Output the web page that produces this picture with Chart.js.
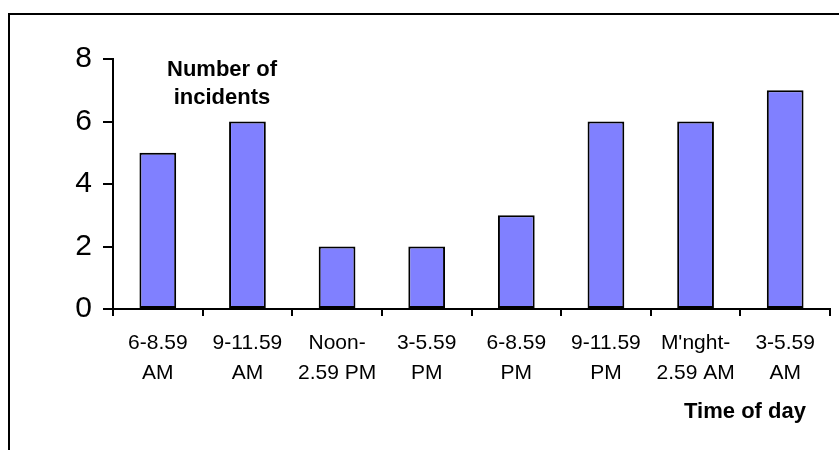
<!DOCTYPE html>
<html>
<head>
<meta charset="utf-8">
<script src="https://cdn.jsdelivr.net/npm/chart.js@4"></script>
<style>
  html, body { margin: 0; padding: 0; background: #fff; }
  #wrap { position: relative; width: 839px; height: 450px; }
  canvas { display: block; }
</style>
</head>
<body>
<div id="wrap"><canvas id="c" width="839" height="450"></canvas></div>
<script>
const categories = [
  ["6-8.59", "AM"],
  ["9-11.59", "AM"],
  ["Noon-", "2.59 PM"],
  ["3-5.59", "PM"],
  ["6-8.59", "PM"],
  ["9-11.59", "PM"],
  ["M'nght-", "2.59 AM"],
  ["3-5.59", "AM"]
];
const incidents = [5, 6, 2, 2, 3, 6, 6, 7];
const yTicks = [0, 2, 4, 6, 8];
const yTitle = ["Number of", "incidents"];
const xTitle = "Time of day";

const FONT = "'Liberation Sans', Arial, sans-serif";

const decor = {
  id: 'decor',
  beforeDraw(chart) {
    const ctx = chart.ctx;
    ctx.save();
    ctx.fillStyle = '#000';
    // outer frame (top and left edges)
    ctx.fillRect(8, 13, 839, 2);
    ctx.fillRect(8, 13, 2, 450);
    ctx.restore();
  },
  afterDraw(chart) {
    const ctx = chart.ctx;
    const a = chart.chartArea;
    ctx.save();
    ctx.fillStyle = '#000';
    ctx.font = "bold 22px " + FONT;
    ctx.textAlign = 'center';
    ctx.textBaseline = 'middle';
    ctx.fillText(yTitle[0], a.left + 109, a.top + 11);
    ctx.fillText(yTitle[1], a.left + 109, a.top + 39);
    ctx.fillText(xTitle, a.right - 85, a.bottom + 103);
    ctx.restore();
  }
};

new Chart(document.getElementById('c'), {
  type: 'bar',
  data: {
    labels: categories,
    datasets: [{
      data: incidents,
      backgroundColor: '#8080FF',
      borderColor: '#000000',
      borderWidth: 2,
      borderSkipped: false,
      categoryPercentage: 1.0,
      barPercentage: 0.41
    }]
  },
  options: {
    responsive: false,
    animation: false,
    devicePixelRatio: 1,
    layout: { padding: { left: 0, right: 9, top: 59, bottom: 0 } },
    plugins: { legend: { display: false }, tooltip: { enabled: false }, title: { display: false } },
    scales: {
      x: {
        offset: true,
        grid: { display: true, drawOnChartArea: false, drawTicks: true, tickLength: 7, color: '#000', lineWidth: 2, offset: true },
        border: { display: true, color: '#000', width: 2 },
        ticks: {
          color: '#000',
          font: { family: FONT, size: 21, lineHeight: '30px' },
          padding: 12,
          maxRotation: 0,
          autoSkip: false
        },
        afterFit(scale) { scale.height = 141; }
      },
      y: {
        min: 0,
        max: 8,
        afterBuildTicks(scale) { scale.ticks = yTicks.map(v => ({ value: v })); },
        grid: { display: true, drawOnChartArea: false, drawTicks: true, tickLength: 10, color: '#000', lineWidth: 2 },
        border: { display: true, color: '#000', width: 2 },
        ticks: {
          color: '#000',
          font: { family: FONT, size: 30 },
          padding: 11
        },
        afterFit(scale) { scale.width = 113; }
      }
    }
  },
  plugins: [decor]
});
</script>
</body>
</html>
